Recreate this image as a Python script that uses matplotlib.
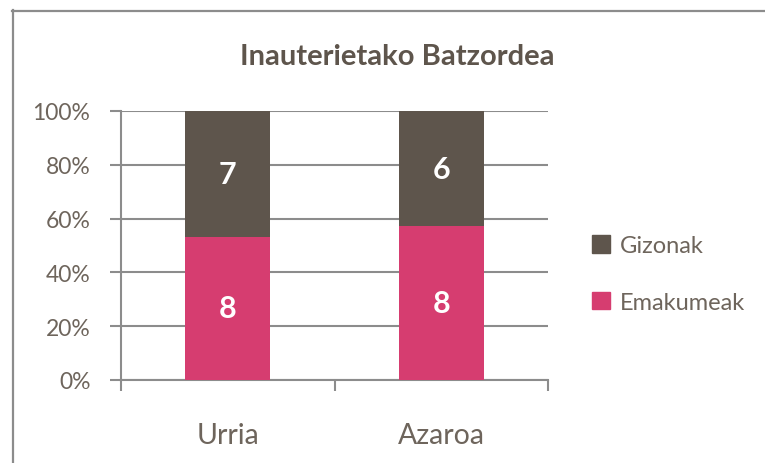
import matplotlib
matplotlib.use("Agg")
import matplotlib.pyplot as plt
import numpy as np
from matplotlib.patches import Rectangle
from matplotlib.lines import Line2D

categories = ["Urria", "Azaroa"]
emakumeak = [8, 8]
gizonak = [7, 6]
series_names = ["Gizonak", "Emakumeak"]
title = "Inauterietako Batzordea"
yticks = [0, 20, 40, 60, 80, 100]
ytick_labels = ["0%", "20%", "40%", "60%", "80%", "100%"]

c_pink = "#D63D70"
c_brown = "#5E554C"
c_text = "#6E655C"
c_grid = "#8C8C8C"

plt.rcParams['font.family'] = ['Lato', 'DejaVu Sans']

fig = plt.figure(figsize=(7.65, 4.64), dpi=100)
# outer frame
fig.add_artist(Line2D([12.5/765, 12.5/765], [0, 1 - 11/464], transform=fig.transFigure,
                      color=c_grid, lw=1.6))
fig.add_artist(Line2D([12/765, 1], [1 - 11.5/464, 1 - 11.5/464], transform=fig.transFigure,
                      color=c_grid, lw=1.6))

ax = fig.add_axes([121/765, 1 - 381/464, (548 - 121)/765, (381 - 112)/464])

tot = np.array(emakumeak) + np.array(gizonak)
pw = np.array(emakumeak) / tot * 100
pm = np.array(gizonak) / tot * 100
x = np.arange(len(categories))
bw = 0.40
ax.bar(x, pw, width=bw, color=c_pink, zorder=3)
ax.bar(x, pm, width=bw, bottom=pw, color=c_brown, zorder=3)

for i in range(len(categories)):
    ax.text(x[i], pw[i] / 2, str(emakumeak[i]), ha='center', va='center',
            color='white', fontsize=22, fontweight='bold', zorder=4)
    ax.text(x[i], pw[i] + pm[i] / 2, str(gizonak[i]), ha='center', va='center',
            color='white', fontsize=22, fontweight='bold', zorder=4)

ax.set_xlim(-0.5, len(categories) - 0.5)
ax.set_ylim(0, 100)
ax.set_yticks(yticks)
ax.set_yticklabels(ytick_labels)
ax.yaxis.grid(True, color=c_grid, lw=1.5, zorder=1)
ax.tick_params(axis='y', length=8, width=1.5, color=c_grid, labelsize=16.5,
               labelcolor=c_text, pad=14)
# x ticks at category boundaries
ax.set_xticks(np.arange(-0.5, len(categories), 1.0))
ax.set_xticklabels([])
ax.set_xticks(x, minor=True)
ax.set_xticklabels(categories, minor=True)
ax.tick_params(axis='x', which='major', length=8, width=1.5, color=c_grid)
ax.tick_params(axis='x', which='minor', length=0, labelsize=20.5, labelcolor=c_text, pad=30)
for s in ['top', 'right']:
    ax.spines[s].set_visible(False)
for s in ['left', 'bottom']:
    ax.spines[s].set_color(c_grid)
    ax.spines[s].set_linewidth(1.5)

fig.text(397/765, 1 - 57/464, title, ha='center', va='center', fontsize=21,
         fontweight='bold', color=c_brown)

handles = [Rectangle((0, 0), 1, 1, color=c_brown), Rectangle((0, 0), 1, 1, color=c_pink)]
leg = fig.legend(handles, series_names, loc='center left', bbox_to_anchor=(592/765, 1 - 275/464),
                 frameon=False, handlelength=0.75, borderpad=0, borderaxespad=0,
                 handleheight=0.75, handletextpad=0.45, labelspacing=1.5,
                 prop={'size': 17})
for t in leg.get_texts():
    t.set_color(c_text)

fig.savefig("out.png", dpi=100)
